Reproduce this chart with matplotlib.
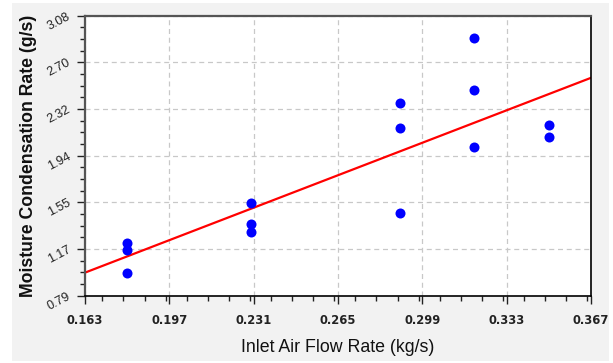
import matplotlib
matplotlib.use("Agg")
import matplotlib.pyplot as plt
from matplotlib.patches import Rectangle
from matplotlib.ticker import MultipleLocator, FixedLocator
import numpy as np

# data
air_flow = [0.18, 0.18, 0.18,
            0.23, 0.23, 0.23,
            0.29, 0.29, 0.29,
            0.32, 0.32, 0.32,
            0.35, 0.35]
condensation = [1.22, 1.16, 0.975,
                1.545, 1.38, 1.315,
                2.37, 2.165, 1.47,
                2.895, 2.475, 2.005,
                2.185, 2.085]

x_ticks = [0.163, 0.197, 0.231, 0.265, 0.299, 0.333, 0.367]
y_ticks = [0.79, 1.17, 1.55, 1.94, 2.32, 2.70, 3.08]

plt.rcParams["font.family"] = ["Liberation Sans", "DejaVu Sans"]

fig = plt.figure(figsize=(6.13, 3.63), dpi=100, facecolor="white")
fig.patches.append(Rectangle((12 / 613, 2 / 363), 597 / 613, 358 / 363,
                             transform=fig.transFigure, facecolor="#f2f2f2",
                             edgecolor="none", zorder=-10))
ax = fig.add_axes([85 / 613, 1 - 295.7 / 363, 506 / 613, 280 / 363])
ax.set_facecolor("white")

# regression line
slope, icpt = np.polyfit(air_flow, condensation, 1)
xl = np.array([x_ticks[0], x_ticks[-1]])
ax.plot(xl, slope * xl + icpt, color="red", lw=1.6, zorder=2)

ax.scatter(air_flow, condensation, s=52, color="blue", zorder=3, linewidths=0)

ax.set_xlim(x_ticks[0], x_ticks[-1])
ax.set_ylim(y_ticks[0], y_ticks[-1])
ax.xaxis.set_major_locator(FixedLocator(x_ticks))
ax.yaxis.set_major_locator(FixedLocator(np.linspace(y_ticks[0], y_ticks[-1], 7)))
ax.xaxis.set_minor_locator(MultipleLocator((x_ticks[1] - x_ticks[0]) / 4))
ax.yaxis.set_minor_locator(FixedLocator(np.linspace(y_ticks[0], y_ticks[-1], 25)))
ax.set_xticklabels([f"{v:.3f}" for v in x_ticks], fontweight="bold", fontsize=8.3,
                   family=["DejaVu Sans"], color="#222222")
ax.set_yticklabels([f"{v:.2f}" for v in y_ticks], fontsize=9, rotation=28,
                   ha="right", va="center", rotation_mode="anchor", color="#222222")

ax.tick_params(axis="both", which="major", length=6, width=1, color="#222222")
ax.tick_params(axis="x", which="major", pad=7)
ax.tick_params(axis="y", which="major", pad=5)
ax.tick_params(axis="both", which="minor", length=3.5, width=1, color="#222222")

ax.grid(True, which="major", linestyle=(0, (4, 3)), color="#c8c8c8", lw=0.9)
ax.set_axisbelow(True)

for side in ["top", "left"]:
    ax.spines[side].set_color("#555555")
    ax.spines[side].set_linewidth(1.6)
for side in ["bottom", "right"]:
    ax.spines[side].set_color("black")
    ax.spines[side].set_linewidth(1.2)

ax.set_xlabel("Inlet Air Flow Rate (kg/s)", fontsize=12.8, color="#111111", labelpad=9)
ax.set_ylabel("Moisture Condensation Rate (g/s)", fontsize=12.7, fontweight="bold",
              color="#111111", labelpad=6)

fig.savefig("out.png", dpi=100, facecolor="white")
